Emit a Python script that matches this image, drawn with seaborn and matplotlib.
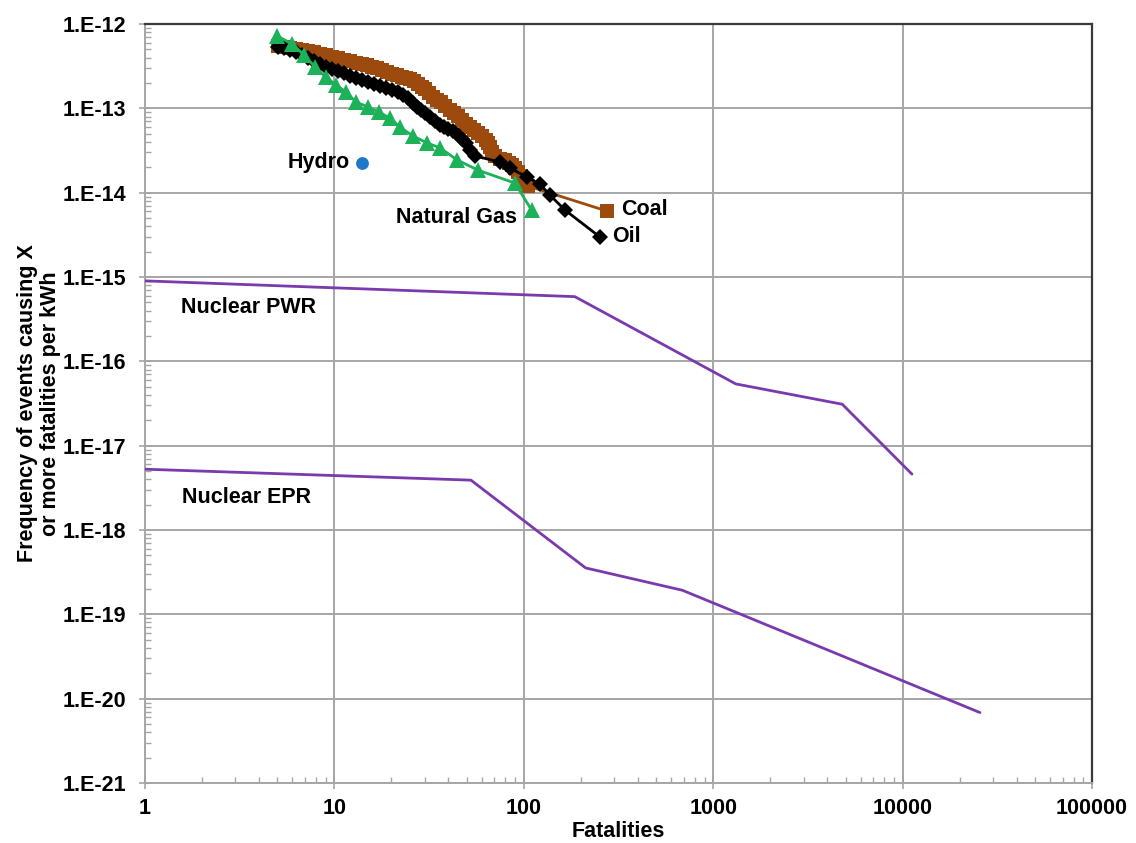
import numpy as np
import pandas as pd
import matplotlib
matplotlib.use("Agg")
import matplotlib.pyplot as plt
import seaborn as sns
from matplotlib.ticker import FixedLocator, LogLocator, FuncFormatter, NullFormatter

# ---------------- data ----------------
coal_x = [5.04, 5.42, 5.83, 6.27, 6.74, 7.25, 7.80, 8.39, 9.03, 9.71, 10.45, 11.24,
          12.09, 13.0, 13.98, 14.86, 15.79, 16.79, 17.84, 18.96, 20.15, 21.41, 22.75,
          23.88, 25.07, 26.32, 27.63, 29.0, 30.1, 31.6, 33.2, 34.8, 36.5, 38.4, 40.8,
          42.8, 44.9, 47.2, 49.5, 52.0, 54.6, 57.3, 60.1, 63.2, 64.7, 66.3, 67.9, 70.5,
          74.9, 79.6, 83.5, 86.6, 89.8, 93.2, 96.7, 100.3, 105.2, 275]
coal_y = [5.48e-13, 5.34e-13, 5.19e-13, 5.05e-13, 4.91e-13, 4.78e-13, 4.65e-13,
          4.41e-13, 4.29e-13, 4.06e-13, 3.95e-13, 3.74e-13, 3.64e-13, 3.45e-13,
          3.35e-13, 3.26e-13, 3.09e-13, 3.01e-13, 2.85e-13, 2.70e-13, 2.55e-13,
          2.48e-13, 2.35e-13, 2.29e-13, 2.23e-13, 2.11e-13, 1.94e-13, 1.79e-13,
          1.69e-13, 1.52e-13, 1.36e-13, 1.25e-13, 1.19e-13, 1.07e-13, 9.55e-14,
          8.8e-14, 8.1e-14, 7.26e-14, 6.51e-14, 6.0e-14, 5.53e-14, 5.09e-14, 4.69e-14,
          4.21e-14, 3.88e-14, 3.48e-14, 3.03e-14, 2.72e-14, 2.50e-14, 2.44e-14,
          2.24e-14, 2.13e-14, 1.96e-14, 1.76e-14, 1.57e-14, 1.41e-14, 1.20e-14,
          6.05e-15]

oil_x = [5.04, 5.42, 5.83, 6.27, 6.74, 7.25, 7.80, 8.39, 9.03, 9.71, 10.45, 11.24,
         12.09, 13.0, 13.98, 15.05, 16.19, 17.41, 18.73, 20.15, 21.67, 23.02, 24.47,
         26.0, 27.3, 28.66, 30.1, 31.97, 33.98, 36.1, 37.9, 39.8, 42.3, 44.9, 47.2,
         49.5, 52.0, 55.3, 74.9, 84.6, 104, 121.8, 137.5, 165, 253]
oil_y = [5.34e-13, 5.19e-13, 4.91e-13, 4.65e-13, 4.29e-13, 3.95e-13, 3.64e-13,
         3.35e-13, 3.09e-13, 2.92e-13, 2.77e-13, 2.62e-13, 2.42e-13, 2.29e-13,
         2.17e-13, 2.05e-13, 1.94e-13, 1.84e-13, 1.74e-13, 1.65e-13, 1.56e-13,
         1.44e-13, 1.33e-13, 1.16e-13, 1.04e-13, 9.55e-14, 8.8e-14, 7.88e-14,
         7.07e-14, 6.34e-14, 6.0e-14, 5.68e-14, 5.38e-14, 4.82e-14, 4.32e-14,
         3.88e-14, 3.20e-14, 2.72e-14, 2.31e-14, 1.96e-14, 1.53e-14, 1.26e-14,
         9.36e-15, 6.22e-15, 2.97e-15]

gas_x = [5, 6, 6.9, 7.9, 9.0, 10.2, 11.5, 13.0, 15.0, 17.2, 19.6, 22.2, 26.0, 30.8,
         36.1, 44.4, 57.3, 89.8, 110]
gas_y = [7.2e-13, 5.8e-13, 4.3e-13, 3.1e-13, 2.35e-13, 1.9e-13, 1.56e-13, 1.19e-13,
         1.04e-13, 9.0e-14, 7.7e-14, 6.0e-14, 4.7e-14, 3.9e-14, 3.4e-14, 2.45e-14,
         1.85e-14, 1.3e-14, 6.2e-15]

hydro_x = [14]
hydro_y = [2.24e-14]

pwr_x = [1, 186, 1315, 4800, 11200]
pwr_y = [9.0e-16, 5.85e-16, 5.4e-17, 3.1e-17, 4.6e-18]

epr_x = [1, 52.6, 212, 687, 25600]
epr_y = [5.26e-18, 3.9e-18, 3.55e-19, 1.93e-19, 6.84e-21]

x_ticks = [1, 10, 100, 1000, 10000, 100000]
x_tick_labels = ["1", "10", "100", "1000", "10000", "100000"]
y_ticks = [1e-21, 1e-20, 1e-19, 1e-18, 1e-17, 1e-16, 1e-15, 1e-14, 1e-13, 1e-12]

# ---------------- style ----------------
sns.set_style("white")
plt.rcParams["font.family"] = ["Liberation Sans", "DejaVu Sans"]
plt.rcParams["font.weight"] = "bold"

COAL = "#9C4A0E"
OIL = "#000000"
GAS = "#1DB15A"
HYDRO = "#1F78C8"
NUC = "#7A3AAE"
GRID = "#A6A6A6"
FS = 15.5

fig = plt.figure(figsize=(11.36, 8.43), dpi=100)
ax = fig.add_axes([0.1276, 0.0712, 0.8337, 0.9003])
ax.set_xscale("log")
ax.set_yscale("log")

sns.lineplot(x=pwr_x, y=pwr_y, ax=ax, color=NUC, linewidth=2.0, sort=False,
             estimator=None, zorder=3)
sns.lineplot(x=epr_x, y=epr_y, ax=ax, color=NUC, linewidth=2.0, sort=False,
             estimator=None, zorder=3)

sns.lineplot(x=coal_x, y=coal_y, ax=ax, color=COAL, linewidth=2.0, sort=False,
             estimator=None, marker="s", markersize=10, markeredgecolor=COAL,
             markeredgewidth=0, zorder=4)
sns.lineplot(x=oil_x, y=oil_y, ax=ax, color=OIL, linewidth=2.0, sort=False,
             estimator=None, marker="D", markersize=8, markeredgecolor=OIL,
             markeredgewidth=0, zorder=5)
sns.lineplot(x=gas_x, y=gas_y, ax=ax, color=GAS, linewidth=2.0, sort=False,
             estimator=None, marker="^", markersize=12, markeredgecolor=GAS,
             markeredgewidth=0, zorder=6)
sns.scatterplot(x=hydro_x, y=hydro_y, ax=ax, color=HYDRO, s=85, edgecolor=HYDRO,
                linewidth=0, zorder=6)

ax.set_xlim(1, 100000)
ax.set_ylim(1e-21, 1e-12)

ax.xaxis.set_major_locator(FixedLocator(x_ticks))
ax.xaxis.set_major_formatter(FuncFormatter(
    lambda v, p: x_tick_labels[x_ticks.index(int(round(v)))] if int(round(v)) in x_ticks else ""))
ax.yaxis.set_major_locator(FixedLocator(y_ticks))
ax.yaxis.set_major_formatter(FuncFormatter(lambda v, p: "1.E%d" % int(round(np.log10(v)))))
ax.xaxis.set_minor_locator(LogLocator(base=10, subs=np.arange(2, 10), numticks=20))
ax.yaxis.set_minor_locator(LogLocator(base=10, subs=np.arange(2, 10), numticks=30))
ax.xaxis.set_minor_formatter(NullFormatter())
ax.yaxis.set_minor_formatter(NullFormatter())

ax.tick_params(which="major", direction="inout", length=9, width=1.2, color=GRID,
               labelsize=FS, labelcolor="black")
ax.tick_params(axis="y", which="major", pad=9)
ax.tick_params(axis="x", which="major", pad=6)
ax.tick_params(which="minor", direction="in", length=4, width=1.0, color=GRID)
ax.tick_params(axis="y", which="both", left=True, right=False)
ax.tick_params(axis="x", which="both", bottom=True, top=False)
for lab in ax.get_xticklabels() + ax.get_yticklabels():
    lab.set_fontweight("bold")

ax.grid(True, which="major", color=GRID, linewidth=1.4)
ax.set_axisbelow(True)
for s in ["left", "bottom"]:
    ax.spines[s].set_color(GRID)
    ax.spines[s].set_linewidth(1.4)
for s in ["top", "right"]:
    ax.spines[s].set_color("#3a3a3a")
    ax.spines[s].set_linewidth(1.6)

ax.set_xlabel("Fatalities", fontsize=FS, fontweight="bold", labelpad=2, color="black")
ax.set_ylabel("Frequency of events causing X\nor more fatalities per kWh",
              fontsize=FS, fontweight="bold", labelpad=1, linespacing=1.15, color="black")

txt = dict(fontsize=FS, fontweight="bold", color="#000000", zorder=7)
ax.text(12.1, 2.3e-14, "Hydro", ha="right", va="center", **txt)
ax.text(44.4, 5.1e-15, "Natural Gas", ha="center", va="center", **txt)
ax.text(326, 6.4e-15, "Coal", ha="left", va="center", **txt)
ax.text(292, 3.0e-15, "Oil", ha="left", va="center", **txt)
ax.text(1.55, 4.3e-16, "Nuclear PWR", ha="left", va="center", **txt)
ax.text(1.57, 2.45e-18, "Nuclear EPR", ha="left", va="center", **txt)

fig.savefig("out.png", dpi=100)
